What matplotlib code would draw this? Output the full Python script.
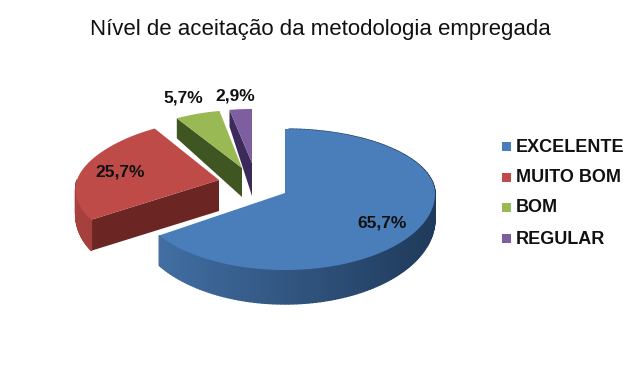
import numpy as np
import matplotlib
matplotlib.use('Agg')
import matplotlib.pyplot as plt
from matplotlib.colors import to_rgb

titulo = 'Nível de aceitação da metodologia empregada'
categorias = ['EXCELENTE', 'MUITO BOM', 'BOM', 'REGULAR']
valores = [65.7, 25.7, 5.7, 2.9]

# cor do topo, cor do corte, lateral clara e lateral escura
cores = ['#4a7ebb', '#be4b48', '#98b954', '#7d5fa0']
cores_corte = ['#2a4a70', '#6b2624', '#3f5522', '#3b2a5a']
lateral_a = ['#4573aa', '#a8413f', '#5a7530', '#4a3570']
lateral_b = ['#1f3a5a', '#7a2c2a', '#3f5522', '#3b2a5a']

# geometria de cada fatia em pixels
centros = [(285, 193), (219, 180), (242, 168), (252, 163)]
raio_x = [150, 142, 144, 144]
raio_y_tras = [64, 60, 58, 54]
raio_y_frente = [77, 72, 72, 72]
persp = [0.01, 0.14, 0.14, 0.14]
altura = [25, 22, 29, 33]
altura_k = [0.36, 0.74, 0.36, 0.5]
altura_centro = [33, 31, 29, 33]
pos_rotulos = [(382, 223), (120, 172), (183, 98), (235, 96)]
pos_legenda = [146.5, 177, 207, 238]

plt.rcParams['font.family'] = ['Liberation Sans', 'DejaVu Sans']
fig = plt.figure(figsize=(6.4, 3.84), dpi=100)
ax = fig.add_axes([0, 0, 1, 1])
ax.set_xlim(0, 640)
ax.set_ylim(384, 0)
ax.axis('off')


def ponto(i, teta):
    cx, cy = centros[i]
    rx = raio_x[i] * (1 - persp[i] * np.cos(teta))
    ry = raio_y_tras[i] if np.cos(teta) > 0 else raio_y_frente[i]
    return cx + rx * np.sin(teta), cy - ry * np.cos(teta)


def prof(i, teta):
    return altura[i] * (1 - altura_k[i] * np.cos(teta))


inicio = 0.0
fatias = []
for v in valores:
    fim = inicio + v / sum(valores) * 2 * np.pi
    fatias.append((inicio, fim))
    inicio = fim

for i, (a, b) in enumerate(fatias):
    tetas = np.linspace(a, b, 160)
    xs, ys = zip(*[ponto(i, t) for t in tetas])
    xs, ys = np.array(xs), np.array(ys)
    cx, cy = centros[i]
    h = altura_centro[i]

    # corte visivel das fatias menores
    if i > 0:
        ax.fill([cx, xs[0], xs[0], cx],
                [cy, ys[0], ys[0] + prof(i, tetas[0]), cy + h],
                color=cores_corte[i], lw=0, zorder=1)

    # lateral externa com degrade, so a parte virada para a frente
    ca, cb = np.array(to_rgb(lateral_a[i])), np.array(to_rgb(lateral_b[i]))
    for k in range(len(tetas) - 1):
        t = tetas[k]
        if np.cos(t) < 0 or np.sin(t) > 0:
            frac = (np.sin(t) + 1) / 2
            ax.fill([xs[k], xs[k + 1], xs[k + 1], xs[k]],
                    [ys[k], ys[k + 1], ys[k + 1] + prof(i, tetas[k + 1]), ys[k] + prof(i, t)],
                    color=ca + (cb - ca) * frac, lw=1, zorder=1)

    # topo
    ax.fill(np.r_[cx, xs], np.r_[cy, ys], color=cores[i], lw=0, zorder=2)

for i, v in enumerate(valores):
    ax.text(*pos_rotulos[i], f'{v:.1f}%'.replace('.', ','), color='#111111',
            fontsize=12.5, fontweight='bold', ha='center', va='center', zorder=3)

# legenda
for i, c in enumerate(categorias):
    ax.fill([502, 511, 511, 502], np.array([-4.5, -4.5, 4.5, 4.5]) + pos_legenda[i],
            color=cores[i], lw=0)
    ax.text(516, pos_legenda[i] + 1, c, fontsize=13, fontweight='bold', color='#111111',
            ha='left', va='center')

ax.text(320.5, 29, titulo, fontsize=16, color='#111111', ha='center', va='center')

fig.savefig('out.png', dpi=100)
